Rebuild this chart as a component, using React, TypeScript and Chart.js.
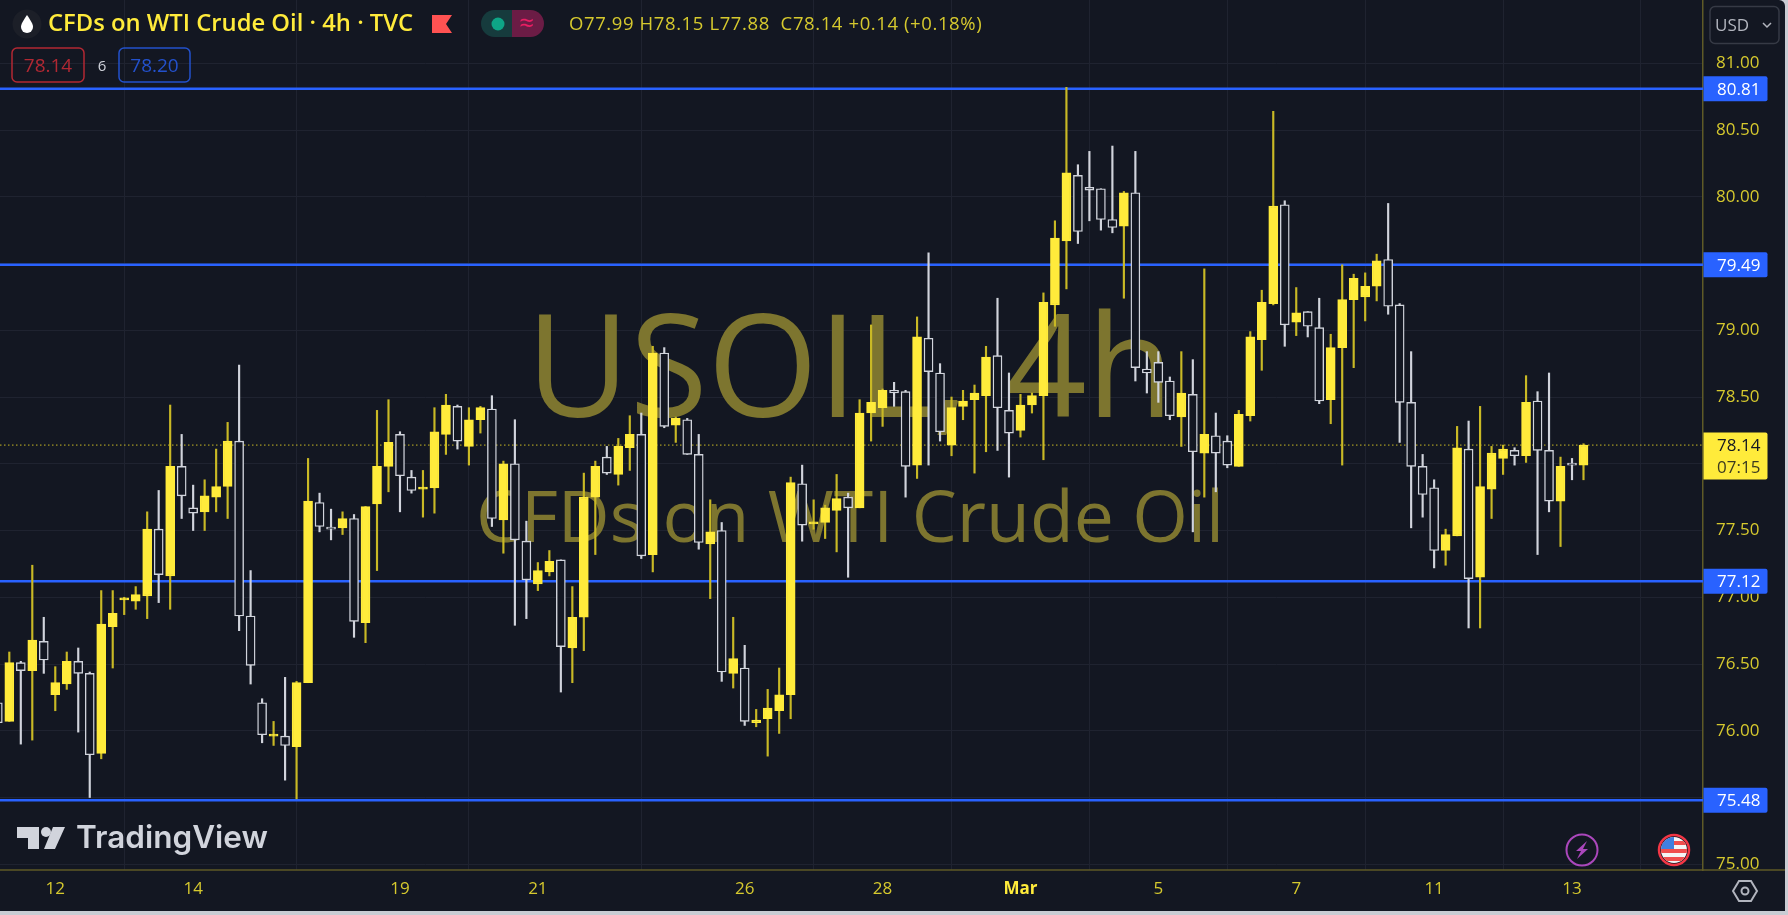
import React, { useEffect, useRef } from "react";
import Chart from "chart.js/auto";

const barOpen = [76.21,76.07,76.51,76.45,76.67,76.27,76.35,76.52,76.43,75.83,
76.78,76.98,76.97,77.01,77.51,77.16,77.98,77.67,77.64,77.75,
77.83,78.17,76.86,76.21,75.96,75.96,75.88,76.36,77.71,77.52,
77.52,77.59,76.81,77.70,77.98,78.22,77.90,77.81,77.82,78.22,
78.43,78.13,78.33,78.41,77.58,78.00,77.42,77.10,77.19,77.28,
76.62,76.85,77.75,78.05,77.92,78.12,78.22,77.32,78.83,78.29,
78.33,78.07,77.40,77.50,76.43,76.47,76.06,76.09,76.15,76.27,
77.85,77.55,77.56,77.65,77.75,77.67,78.38,78.42,78.55,78.54,
77.99,78.94,78.68,78.14,78.43,78.48,78.51,78.81,78.40,78.25,
78.44,78.51,79.19,79.67,80.16,80.07,80.06,79.83,79.78,80.03,
78.71,78.76,78.62,78.35,78.52,78.08,78.21,78.17,77.98,78.36,
78.93,79.20,79.94,79.06,79.14,79.02,78.48,78.87,79.23,79.25,
79.33,79.53,79.19,78.46,77.98,77.82,77.35,77.46,78.11,77.15,
77.81,78.04,78.10,78.06,78.47,78.10,77.72,78.00,77.99];

const barHigh = [76.23,76.59,76.52,77.24,76.85,76.48,76.59,76.62,76.44,77.05,
77.05,77.00,77.08,77.64,77.80,78.44,78.22,77.84,77.88,78.11,
78.31,78.74,77.20,76.24,76.07,76.40,76.37,78.04,77.78,77.66,
77.64,77.62,77.68,78.40,78.48,78.24,77.95,77.95,78.42,78.52,
78.44,78.42,78.43,78.51,78.02,78.33,77.57,77.26,77.35,77.28,
77.08,77.93,78.02,78.13,78.19,78.36,78.38,78.88,78.87,78.35,
78.34,78.22,77.73,77.56,76.85,76.64,76.16,76.31,76.47,77.90,
77.99,77.73,77.69,77.92,77.78,78.48,79.04,78.56,78.61,78.55,
79.10,79.58,78.75,78.50,78.55,78.59,78.88,79.24,78.68,78.52,
78.53,79.28,79.82,80.82,80.24,80.34,80.06,80.38,80.04,80.34,
78.84,78.84,78.65,78.84,78.78,79.46,78.38,78.21,78.40,78.99,
79.30,80.64,79.97,79.32,79.14,79.24,78.97,79.49,79.42,79.43,
79.57,79.95,79.20,78.84,78.07,77.88,77.51,78.28,78.32,78.43,
78.13,78.14,78.12,78.66,78.54,78.68,78.05,78.04,78.15];

const barLow = [76.03,76.07,75.90,75.93,76.43,76.15,76.31,75.99,75.50,75.79,
76.47,76.87,76.91,76.84,76.96,76.91,77.59,77.50,77.50,77.64,
77.59,76.75,76.35,75.91,75.89,75.63,75.49,76.36,77.49,77.43,
77.47,76.70,76.66,77.20,77.79,77.64,77.78,77.60,77.63,78.07,
78.11,77.99,78.23,77.53,77.33,76.79,76.84,77.05,77.16,76.29,
76.36,76.60,77.32,77.92,77.84,77.95,77.29,77.19,78.27,78.16,
78.07,77.36,76.99,76.37,76.32,76.04,76.03,75.81,75.98,76.09,
77.42,77.51,77.44,77.34,77.15,77.67,78.17,78.28,78.43,77.75,
77.89,77.99,78.17,78.06,78.33,77.93,78.09,78.10,77.90,78.20,
78.38,78.03,79.03,79.31,79.65,79.82,79.75,79.73,79.24,78.62,
78.53,78.46,78.33,78.13,77.49,77.75,77.79,77.97,77.98,78.32,
78.70,79.19,78.88,78.96,78.95,78.45,78.30,77.99,78.72,79.07,
79.22,79.12,78.16,77.52,77.60,77.22,77.24,77.46,76.77,76.77,
77.59,77.92,77.99,78.01,77.32,77.64,77.38,77.88,77.88];

const barClose = [76.06,76.51,76.45,76.68,76.53,76.36,76.52,76.43,75.82,76.80,
76.88,76.99,77.02,77.51,77.17,77.98,77.76,77.63,77.76,77.83,
78.17,76.86,76.49,75.97,75.97,75.89,76.36,77.72,77.53,77.51,
77.59,76.82,77.68,77.98,78.16,77.91,77.80,77.82,78.24,78.44,
78.17,78.33,78.42,77.59,78.00,77.43,77.13,77.20,77.27,76.63,
76.85,77.75,77.98,77.93,78.13,78.22,77.31,78.83,78.28,78.34,
78.07,77.41,77.49,76.44,76.54,76.07,76.08,76.17,76.27,77.86,
77.54,77.55,77.67,77.74,77.67,78.38,78.46,78.55,78.53,77.98,
78.95,78.69,78.24,78.42,78.47,78.53,78.80,78.42,78.23,78.44,
78.51,79.21,79.69,80.18,79.74,80.05,79.83,79.77,80.03,78.72,
78.68,78.61,78.36,78.53,78.09,78.22,78.08,77.99,78.37,78.95,
79.21,79.93,79.04,79.13,79.03,78.47,78.87,79.23,79.39,79.33,
79.52,79.18,78.46,77.98,77.77,77.35,77.47,78.12,77.14,77.83,
78.08,78.11,78.06,78.46,78.10,77.72,77.98,77.99,78.14];

const dayTickIndexes = [5, 17, 35, 47, 65, 77, 89, 101, 113, 125, 137];
const dayTickLabels = ["12", "14", "19", "21", "26", "28", "Mar", "5", "7", "11", "13"];
const priceTicks = [75, 75.5, 76, 76.5, 77, 77.5, 78, 78.5, 79, 79.5, 80, 80.5, 81];
const levelValues = [80.81, 79.49, 77.12, 75.48];
const lastPrice = 78.14;
const countdown = "07:15";
const axisMinX = 0.19;
const axisMaxX = 148.4;
const axisMinY = 74.957;
const axisMaxY = 81.474;
const marTickIndex = 89;

const BG = "#131722";
const YEL = "#ffeb3b";
const YEL_DIM = "#d6c92e";
const WICK_Y = "#c9b925";
const WHITE = "#d1d4dc";
const BLUE = "#2962ff";
const AXIS = "#5f5a26";
const GRID = "#1f2330";
const WM = "#7d752f";
const FONT = '"Open Sans", sans-serif';

const isUp = (i: number) => barClose[i] >= barOpen[i];

function rr(c: any, x: number, y: number, w: number, h: number, r: number | number[]) {
  c.beginPath();
  c.roundRect(x, y, w, h, r);
}

function text(c: any, s: string, x: number, y: number, font: string, color: string, align = "left", spacing = "0px") {
  c.font = font;
  c.fillStyle = color;
  c.textAlign = align;
  c.textBaseline = "alphabetic";
  c.letterSpacing = spacing;
  c.fillText(s, x, y);
  c.letterSpacing = "0px";
}

const noPadding = (s: any) => {
  s.paddingTop = 0;
  s.paddingBottom = 0;
  s.paddingLeft = 0;
  s.paddingRight = 0;
};

const paintPlugin = {
  id: "paint",
  beforeDraw(chart: any) {
    const c = chart.ctx;
    c.save();
    c.fillStyle = "#c9ccd3";
    c.fillRect(0, 0, 1788, 915);
    c.fillStyle = BG;
    rr(c, 0, 0, 1785, 911, [0, 6, 0, 0]);
    c.fill();
    c.restore();
  },
  beforeDatasetsDraw(chart: any) {
    const c = chart.ctx;
    c.save();
    text(c, "USOIL, 4h", 850, 417, `500 142px ${FONT}`, WM, "center");
    text(c, "CFDs on WTI Crude Oil", 850, 542, `500 71.5px ${FONT}`, WM, "center");
    c.restore();
  },
  afterDraw(chart: any) {
    const c = chart.ctx;
    const y = chart.scales.y;
    c.save();
    c.fillStyle = BG;
    c.fillRect(1704, 870, 81, 41);
    c.strokeStyle = AXIS;
    c.lineWidth = 1.5;
    c.beginPath();
    c.moveTo(0, 870);
    c.lineTo(1785, 870);
    c.stroke();

    levelValues.forEach((v) => {
      const py = y.getPixelForValue(v);
      c.fillStyle = BLUE;
      rr(c, 1703.5, py - 12.5, 64, 25, [0, 2, 2, 0]);
      c.fill();
      text(c, v.toFixed(2), 1717, py + 6, `17px ${FONT}`, "#ffffff");
    });
    const lp = y.getPixelForValue(lastPrice);
    c.fillStyle = YEL;
    rr(c, 1703.5, lp - 12.5, 64, 47, [0, 2, 2, 0]);
    c.fill();
    text(c, lastPrice.toFixed(2), 1717, lp + 6, `17px ${FONT}`, "#131722");
    text(c, countdown, 1717, lp + 28, `17px ${FONT}`, "#3b3a20");

    c.strokeStyle = "#363a45";
    c.lineWidth = 1.5;
    rr(c, 1710, 6.5, 69, 37, 5);
    c.stroke();
    text(c, "USD", 1715, 31, `17px ${FONT}`, "#b2b5be");
    c.strokeStyle = "#b2b5be";
    c.lineWidth = 1.5;
    c.beginPath();
    c.moveTo(1763, 23);
    c.lineTo(1767, 27);
    c.lineTo(1771, 23);
    c.stroke();

    c.fillStyle = "#1c1f28";
    c.beginPath();
    c.arc(27, 24, 14.5, 0, Math.PI * 2);
    c.fill();
    c.fillStyle = "#ffffff";
    c.beginPath();
    c.moveTo(27, 15);
    c.bezierCurveTo(23, 21, 21, 24, 21, 27);
    c.arc(27, 27, 6, Math.PI, 0, true);
    c.bezierCurveTo(33, 24, 31, 21, 27, 15);
    c.fill();

    text(c, "CFDs on WTI Crude Oil · 4h · TVC", 48, 31, `600 23.8px ${FONT}`, YEL);
    c.fillStyle = "#ff5252";
    c.beginPath();
    c.moveTo(432, 15);
    c.lineTo(452, 15);
    c.lineTo(446, 24);
    c.lineTo(452, 33);
    c.lineTo(432, 33);
    c.closePath();
    c.fill();
    c.fillStyle = "#163b3d";
    rr(c, 481, 10, 32, 27, [13.5, 0, 0, 13.5]);
    c.fill();
    c.fillStyle = "#6b1c45";
    rr(c, 512, 10, 32, 27, [0, 13.5, 13.5, 0]);
    c.fill();
    c.fillStyle = "#0ea586";
    c.beginPath();
    c.arc(498, 24, 6.5, 0, Math.PI * 2);
    c.fill();
    text(c, "≈", 527, 32, `26px ${FONT}`, "#e91e63", "center");
    text(c, "O77.99 H78.15 L77.88  C78.14 +0.14 (+0.18%)", 569, 30, `18.5px ${FONT}`, YEL_DIM, "left", "0.6px");

    c.lineWidth = 1.5;
    c.strokeStyle = "#b22833";
    rr(c, 12, 48, 72, 34, 5);
    c.stroke();
    text(c, "78.14", 48, 72, `19px ${FONT}`, "#b22833", "center");
    text(c, "6", 102, 71, `15px ${FONT}`, WHITE, "center");
    c.strokeStyle = "#2351cc";
    rr(c, 119, 48, 71, 34, 5);
    c.stroke();
    text(c, "78.20", 154.5, 72, `19px ${FONT}`, "#2351cc", "center");

    c.fillStyle = WHITE;
    c.beginPath();
    c.moveTo(17, 827);
    c.lineTo(39, 827);
    c.lineTo(39, 849);
    c.lineTo(28, 849);
    c.lineTo(28, 838);
    c.lineTo(17, 838);
    c.closePath();
    c.fill();
    c.beginPath();
    c.arc(46, 832, 5, 0, Math.PI * 2);
    c.fill();
    c.beginPath();
    c.moveTo(53, 827);
    c.lineTo(65, 827);
    c.lineTo(55, 849);
    c.lineTo(44, 849);
    c.closePath();
    c.fill();
    text(c, "TradingView", 76, 848, `600 31.5px Inter, ${FONT}`, WHITE);

    c.strokeStyle = "#ab47bc";
    c.lineWidth = 2;
    c.beginPath();
    c.arc(1582, 850, 15.5, 0, Math.PI * 2);
    c.stroke();
    c.fillStyle = "#ab47bc";
    c.beginPath();
    c.moveTo(1587, 841);
    c.lineTo(1576, 851);
    c.lineTo(1581, 851);
    c.lineTo(1577, 859);
    c.lineTo(1588, 849);
    c.lineTo(1583, 849);
    c.closePath();
    c.fill();

    c.save();
    c.beginPath();
    c.arc(1674, 850, 13, 0, Math.PI * 2);
    c.clip();
    c.fillStyle = "#f5f5f5";
    c.fillRect(1660, 836, 28, 28);
    c.fillStyle = "#f04e4e";
    [841, 849, 857].forEach((sy) => c.fillRect(1660, sy, 28, 4));
    c.fillStyle = "#3f7fe0";
    c.fillRect(1660, 836, 14, 13);
    c.restore();
    c.strokeStyle = "#f23645";
    c.lineWidth = 2.5;
    c.beginPath();
    c.arc(1674, 850, 15, 0, Math.PI * 2);
    c.stroke();

    c.strokeStyle = "#b2b5be";
    c.lineWidth = 2;
    c.beginPath();
    c.moveTo(1733, 891);
    c.lineTo(1739, 881);
    c.lineTo(1751, 881);
    c.lineTo(1757, 891);
    c.lineTo(1751, 901);
    c.lineTo(1739, 901);
    c.closePath();
    c.stroke();
    c.beginPath();
    c.arc(1745, 891, 3.5, 0, Math.PI * 2);
    c.stroke();
    c.restore();
  },
};

export default function App() {
  const ref = useRef<HTMLCanvasElement | null>(null);
  useEffect(() => {
    if (!ref.current) return;
    const idx = barOpen.map((_, i) => i);
    const levelSets = levelValues.map((v) => ({
      type: "line" as const,
      data: [{ x: axisMinX, y: v }, { x: axisMaxX, y: v }],
      borderColor: BLUE,
      borderWidth: 2.5,
      pointRadius: 0,
      order: 5,
    }));
    const chart = new Chart(ref.current, {
      type: "bar",
      data: {
        datasets: [
          {
            data: idx.map((i) => ({ x: i, y: [barOpen[i], barClose[i]] })),
            barThickness: 9,
            minBarLength: 2,
            grouped: false,
            borderSkipped: false,
            borderWidth: 1.4,
            backgroundColor: (ctx: any) => (isUp(ctx.dataIndex) ? YEL : BG),
            borderColor: (ctx: any) => (isUp(ctx.dataIndex) ? YEL : WHITE),
            order: 1,
          },
          {
            data: idx.map((i) => ({ x: i, y: [barLow[i], barHigh[i]] })),
            barThickness: 1.5,
            grouped: false,
            borderWidth: 0,
            backgroundColor: (ctx: any) => (isUp(ctx.dataIndex) ? WICK_Y : WHITE),
            order: 2,
          },
          {
            type: "line",
            data: [{ x: axisMinX, y: lastPrice }, { x: axisMaxX, y: lastPrice }],
            borderColor: WICK_Y,
            borderWidth: 1,
            borderDash: [1.5, 2.5],
            pointRadius: 0,
            order: 4,
          },
          ...levelSets,
        ],
      } as any,
      options: {
        responsive: false,
        animation: false,
        devicePixelRatio: 1,
        events: [],
        layout: { padding: 0 },
        plugins: { legend: { display: false }, tooltip: { enabled: false }, title: { display: false } },
        scales: {
          x: {
            type: "linear",
            min: axisMinX,
            max: axisMaxX,
            offset: false,
            afterBuildTicks: (s: any) => {
              s.ticks = dayTickIndexes.map((v) => ({ value: v }));
            },
            afterFit: (s: any) => {
              s.height = 45;
              noPadding(s);
            },
            grid: { color: GRID, lineWidth: 1, drawTicks: false },
            border: { display: false },
            ticks: {
              autoSkip: false,
              maxRotation: 0,
              padding: 9,
              callback: (v: any) => dayTickLabels[dayTickIndexes.indexOf(v)],
              color: (ctx: any) => (ctx.tick?.value === marTickIndex ? YEL : YEL_DIM),
              font: (ctx: any) => ({
                family: FONT,
                size: 17,
                weight: ctx.tick?.value === marTickIndex ? "bold" : "normal",
              }),
            },
          },
          y: {
            type: "linear",
            position: "right",
            min: axisMinY,
            max: axisMaxY,
            afterBuildTicks: (s: any) => {
              s.ticks = priceTicks.map((v) => ({ value: v }));
            },
            afterFit: (s: any) => {
              s.width = 85;
              noPadding(s);
            },
            grid: { color: GRID, lineWidth: 1, drawTicks: false },
            border: { display: true, color: AXIS, width: 1.5 },
            ticks: {
              autoSkip: false,
              padding: 13,
              crossAlign: "near",
              callback: (v: any) => Number(v).toFixed(2),
              color: YEL_DIM,
              font: { family: FONT, size: 17 },
            },
          },
        },
      },
      plugins: [paintPlugin],
    } as any);
    return () => chart.destroy();
  }, []);
  return (
    <div style={{ position: "fixed", left: 0, top: 0, width: 1788, height: 915 }}>
      <canvas ref={ref} width={1788} height={915} style={{ display: "block", width: 1788, height: 915 }} />
    </div>
  );
}
